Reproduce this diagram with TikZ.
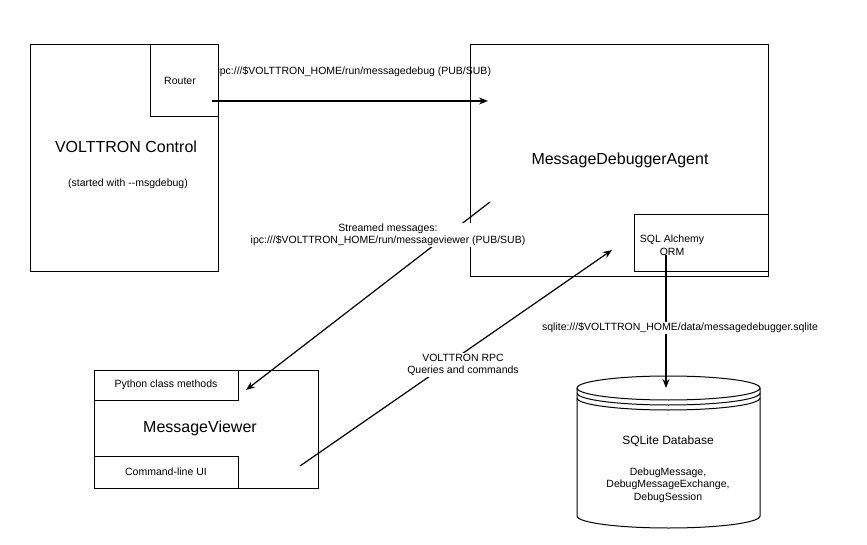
\documentclass[tikz,border=0pt]{standalone}
\usepackage{fontspec}
\setmainfont{Liberation Sans}
\usetikzlibrary{arrows.meta}
\begin{document}
\begin{tikzpicture}[x=1pt,y=-1pt,
  box/.style={draw,line width=1pt},
  sm/.style={font=\fontsize{10.5}{12.5}\selectfont,align=center},
  big/.style={font=\fontsize{16}{19}\selectfont},
  arr/.style={-{Stealth[length=9pt,width=7pt]},line width=1.2pt}]
\useasboundingbox (0,0) rectangle (867,545);
\fill[white] (0,0) rectangle (867,545);
% VOLTTRON Control
\draw[box] (30,45) rectangle (218,272);
\node[box,minimum width=68pt,minimum height=72pt,inner sep=0] (router) at (184,81) {};
\node[sm] (rt) at (180,81) {Router};
\node[big] (vc) at (126,147) {VOLTTRON Control};
\node[sm] (vs) at (128,184) {(started with -{}-msgdebug)};
% MessageDebuggerAgent
\draw[box] (470,45) rectangle (768,277);
\node[big] (mda) at (620,160) {MessageDebuggerAgent};
\draw[box] (634,215) rectangle (768,272);
\node[sm] (sql) at (672,245) {SQL Alchemy\\ORM};
% MessageViewer
\draw[box] (94,370) rectangle (318,488);
\draw[box] (94,370) rectangle (238,400);
\node[sm] (pcm) at (166,385) {Python class methods};
\draw[box] (94,456) rectangle (238,488);
\node[sm] (cli) at (166,472) {Command-line UI};
\node[big] (mv) at (200,428) {MessageViewer};
% Cylinder
\draw[line width=1pt,fill=white] (577,388) -- (577,516) arc[start angle=180,end angle=0,x radius=91.5,y radius=12] -- (760,388);
\draw[line width=1pt] (668.5,388) ellipse[x radius=91.5,y radius=12];
\draw[line width=1pt] (577,393) arc[start angle=180,end angle=0,x radius=91.5,y radius=12];
\draw[line width=1pt] (577,398) arc[start angle=180,end angle=0,x radius=91.5,y radius=12];
\node[sm,font=\fontsize{12}{14}\selectfont] (db) at (668,441) {SQLite Database};
\node[sm] (dbt) at (668,485) {DebugMessage,\\DebugMessageExchange,\\DebugSession};
% connectors
\coordinate (a1) at (212,101); \coordinate (a2) at (488,101);
\draw[arr] (a1) -- (a2);
\node[sm,anchor=west] (l1) at (214,72) {ipc:///\$VOLTTRON\_HOME/run/messagedebug (PUB/SUB)};
\coordinate (b1) at (490,202); \coordinate (b2) at (246,390);
\draw[arr] (b1) -- (b2);
\node[sm,fill=white,inner sep=1pt] (l2) at (388,235) {Streamed messages:\\ipc:///\$VOLTTRON\_HOME/run/messageviewer (PUB/SUB)};
\coordinate (c1) at (300,466); \coordinate (c2) at (612,250);
\draw[arr] (c1) -- (c2);
\node[sm,fill=white,inner sep=1pt] (l3) at (463,365) {VOLTTRON RPC\\Queries and commands};
\coordinate (d1) at (666,255); \coordinate (d2) at (666,388);
\draw[arr] (d1) -- (d2);
\node[sm,fill=white,inner sep=1pt] (l4) at (680,328) {sqlite:///\$VOLTTRON\_HOME/data/messagedebugger.sqlite};
\end{tikzpicture}
\end{document}
